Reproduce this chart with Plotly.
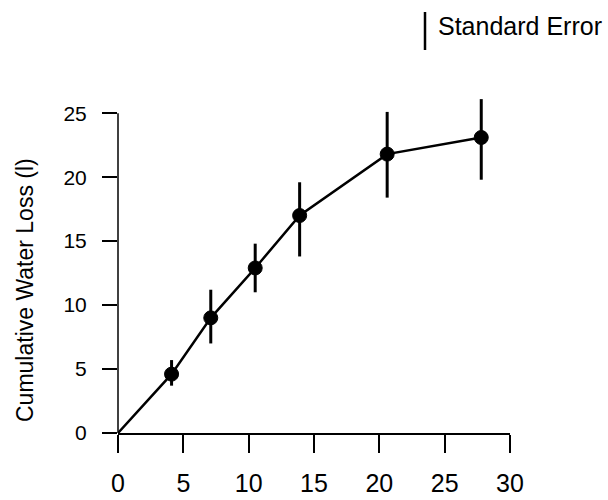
import plotly.graph_objects as go

# Data
days = [0, 4.1, 7.1, 10.5, 13.9, 20.6, 27.8]
water_loss = [0, 4.6, 9.0, 12.9, 17.0, 21.8, 23.1]
err_plus = [0, 1.1, 2.2, 1.9, 2.6, 3.3, 3.0]
err_minus = [0, 0.9, 2.0, 1.9, 3.2, 3.4, 3.3]
x_ticks = [0, 5, 10, 15, 20, 25, 30]
y_ticks = [0, 5, 10, 15, 20, 25]

FONT = "Liberation Sans, Arial, sans-serif"

W, H = 608, 500
L, R, T, B = 118, 98, 94, 67
PW, PH = W - L - R, H - T - B


def px_x(px):
    return (px - L) / PW


def px_y(py):
    return (H - B - py) / PH


fig = go.Figure()
fig.add_trace(go.Scatter(
    x=days, y=water_loss,
    mode="lines+markers",
    line=dict(color="black", width=2.5),
    marker=dict(color="black", size=[0, 14, 14, 14, 14, 14, 14], opacity=1,
                line=dict(color="black", width=1)),
    error_y=dict(type="data", symmetric=False, array=err_plus, arrayminus=err_minus,
                 color="black", thickness=3, width=0),
    showlegend=False,
    cliponaxis=False,
))

fig.update_layout(
    width=W, height=H,
    margin=dict(l=L, r=R, t=T, b=B),
    paper_bgcolor="white", plot_bgcolor="white",
    xaxis=dict(range=[0, 30], tickvals=x_ticks, ticks="outside", ticklen=18, tickwidth=1.5,
               tickcolor="black", showline=True, linecolor="black", linewidth=1.5,
               showgrid=False, zeroline=False, ticklabelstandoff=9, automargin=False,
               tickfont=dict(family=FONT, size=25, color="black")),
    yaxis=dict(range=[0, 26.5], tickvals=y_ticks, ticks="outside", ticklen=15, tickwidth=1.5,
               tickcolor="black", showline=False,
               showgrid=False, zeroline=False, ticklabelstandoff=11, automargin=False,
               tickfont=dict(family=FONT, size=21, color="black")),
    annotations=[
        dict(text="Cumulative Water Loss (l)", xref="paper", yref="paper",
             x=px_x(25), y=px_y(290), textangle=-90, showarrow=False,
             xanchor="center", yanchor="middle",
             font=dict(family=FONT, size=23, color="black")),
        dict(text="Standard Error", xref="paper", yref="paper",
             x=px_x(436), y=px_y(26), showarrow=False, xanchor="left", yanchor="middle",
             font=dict(family=FONT, size=25, color="black")),
    ],
    shapes=[
        # y axis line, from 0 to 25 only
        dict(type="line", xref="x domain", yref="y", x0=0, x1=0, y0=0, y1=25,
             line=dict(color="black", width=1.5)),
        # legend error-bar glyph
        dict(type="line", xref="paper", yref="paper",
             x0=px_x(425), x1=px_x(425), y0=px_y(12), y1=px_y(50),
             line=dict(color="black", width=2.5)),
    ],
)

fig.write_html("out.html")
